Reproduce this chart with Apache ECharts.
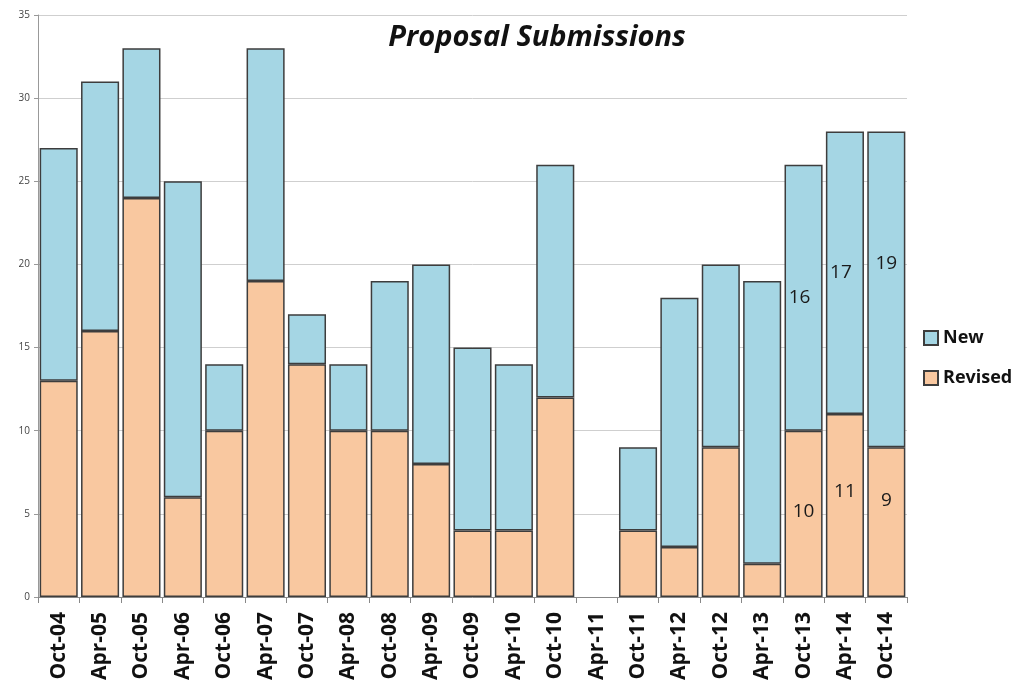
<!DOCTYPE html>
<html>
<head>
<meta charset="utf-8">
<script src="https://cdn.jsdelivr.net/npm/echarts@6/dist/echarts.min.js"></script>
<style>
html,body{margin:0;padding:0;background:#fff;}
#chart{width:1025px;height:685px;}
</style>
</head>
<body>
<div id="chart"></div>
<script>
const categories = ['Oct-04','Apr-05','Oct-05','Apr-06','Oct-06','Apr-07','Oct-07','Apr-08','Oct-08','Apr-09','Oct-09','Apr-10','Oct-10','Apr-11','Oct-11','Apr-12','Oct-12','Apr-13','Oct-13','Apr-14','Oct-14'];
const revised = [13,16,24,6,10,19,14,10,10,8,4,4,12,0,4,3,9,2,10,11,9];
const newer   = [14,15,9,19,4,14,3,4,9,12,11,10,14,0,5,15,11,17,16,17,19];
const yTicks = [0,5,10,15,20,25,30,35];
const labelledIdx = [18,19,20];

const font = '"Open Sans", "Noto Sans", sans-serif';
const borderC = '#3d3d3d';

function build(vals, offs){
  return vals.map((v,i)=>{
    const o = {value: v === 0 ? null : v};
    const k = labelledIdx.indexOf(i);
    if (k >= 0) {
      o.label = {show:true, position:'inside', offset: offs[k], fontSize:19, color:'#1a1a1a', fontFamily:font};
    }
    return o;
  });
}

const chart = echarts.init(document.getElementById('chart'));
chart.setOption({
  animation:false,
  title:{
    text:'Proposal Submissions', left:532, top:18, textAlign:'center',
    textStyle:{fontSize:29, fontWeight:'bold', fontStyle:'italic', color:'#111', fontFamily:font}
  },
  legend:{
    data:['New','Revised'], orient:'vertical', left:918, top:324, itemGap:22,
    itemWidth:14, itemHeight:14, icon:'rect',
    textStyle:{fontSize:18, fontWeight:'bold', color:'#111', fontFamily:font}
  },
  grid:{left:38, right:118, top:15, bottom:88},
  xAxis:{
    type:'category', data:categories,
    axisLine:{lineStyle:{color:'#888'}},
    axisTick:{show:true, length:6, lineStyle:{color:'#888'}},
    axisLabel:{rotate:90, fontSize:21, fontWeight:'bold', color:'#111', fontFamily:font, margin:15}
  },
  yAxis:{
    type:'value', min:0, max:35, interval:5,
    axisLine:{show:true, lineStyle:{color:'#999'}},
    axisTick:{show:true, length:4, lineStyle:{color:'#999'}},
    axisLabel:{fontSize:10, color:'#444', fontFamily:font, margin:8,
      formatter:v=>yTicks.includes(v)?String(v):''},
    splitLine:{lineStyle:{color:'#cfcfcf', width:1}}
  },
  series:[
    {name:'Revised', type:'bar', stack:'a', barCategoryGap:'8%',
     itemStyle:{color:'#F9C8A0', borderColor:borderC, borderWidth:1.5},
     data: build(revised, [[0,-2],[0,-14],[0,-22]])},
    {name:'New', type:'bar', stack:'a', barCategoryGap:'8%',
     itemStyle:{color:'#A5D6E4', borderColor:borderC, borderWidth:1.5},
     data: build(newer, [[-4,0],[-4,0],[0,-26]])}
  ]
});
</script>
</body>
</html>
